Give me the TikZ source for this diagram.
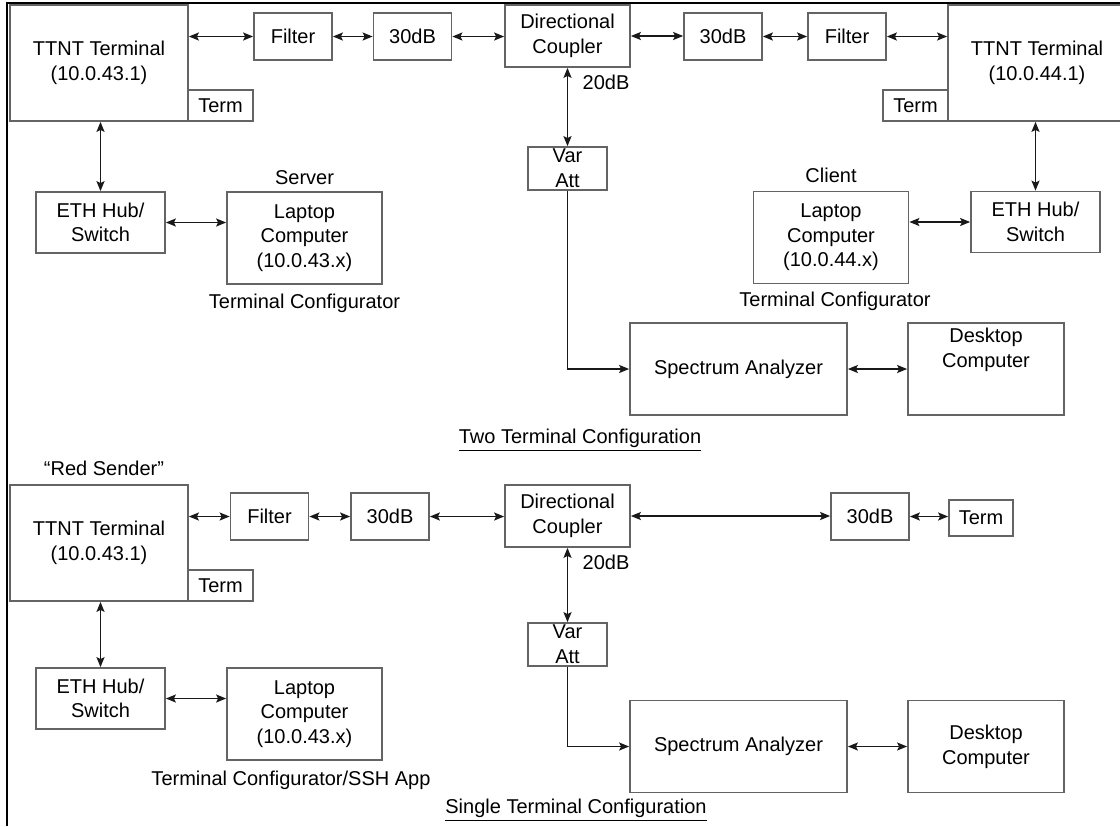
\documentclass[tikz,border=0pt]{standalone}
\usepackage{fontspec}
\setmainfont{Liberation Sans}
\usepackage{tikz}
\usetikzlibrary{arrows.meta, positioning}
\definecolor{boxgray}{RGB}{100,100,100}
\definecolor{linedark}{RGB}{25,25,25}
\newcommand{\boxfont}{\fontsize{15}{18.5}\selectfont}
\tikzset{
  unit/.style={rectangle, draw=boxgray, fill=white, align=center,
    font=\boxfont, line width=1.3pt, inner sep=0pt},
  terminal/.style={unit, minimum width=133.5pt, minimum height=87pt},
  termbox/.style={unit, minimum width=48.75pt, minimum height=23.25pt},
  smallbox/.style={unit, minimum width=58.5pt, minimum height=35.25pt},
  coupler/.style={unit, minimum width=93.75pt, minimum height=46.5pt},
  varbox/.style={unit, minimum width=59.25pt, minimum height=32.25pt},
  hub/.style={unit, minimum width=96.75pt, minimum height=45.75pt},
  laptop/.style={unit, minimum width=116.25pt, minimum height=69pt},
  analyzer/.style={unit, minimum width=162.75pt, minimum height=69pt},
  desktop/.style={unit, minimum width=117pt, minimum height=69pt},
  link/.style={<->, line width=1.2pt, color=linedark},
  feed/.style={->, line width=1.2pt, color=linedark},
  caption/.style={font=\boxfont, inner sep=0pt}
}

\begin{document}
\begin{tikzpicture}[x=0.75pt, y=-0.75pt,
  >={Stealth[length=7.5pt, width=6pt, inset=1.5pt]}]
\useasboundingbox (0,0) rectangle (1120,826);
\draw[line width=1.5pt] (7,826) -- (7,3) -- (1120,3);

% two terminal configuration
\node[terminal] (tA) at (99,63) {TTNT Terminal\\(10.0.43.1)};
\node[termbox] (termA) at (220.5,105.5) {Term};
\node[smallbox] (filA) at (293,36.5) {Filter};
\node[smallbox] (attA) at (412.5,36.5) {30dB};
\node[coupler] (dcA) at (567.5,36) {Directional\\Coupler};
\node[smallbox] (attB) at (723,36.5) {30dB};
\node[smallbox] (filB) at (847,36.5) {Filter};
\node[terminal] (tB) at (1037,63) {TTNT Terminal\\(10.0.44.1)};
\node[termbox] (termB) at (915.5,105.5) {Term};
\node[caption] (gainA) at (606,82) {20dB};
\node[varbox] (varA) at (567.5,168.5) {Var\\Att};
\node[hub] (ethA) at (100.5,222.5) {ETH Hub/\\Switch};
\node[laptop] (lapA) at (304.5,238) {Laptop\\Computer\\(10.0.43.x)};
\node[caption] (roleA) at (304.5,178) {Server};
\node[caption] (cfgA) at (304.5,303) {Terminal Configurator};
\node[laptop] (lapB) at (831,237.5) {Laptop\\Computer\\(10.0.44.x)};
\node[caption] (roleB) at (831,175) {Client};
\node[caption] (cfgB) at (835,301) {Terminal Configurator};
\node[hub] (ethB) at (1035.5,222) {ETH Hub/\\Switch};
\node[analyzer] (saA) at (738.5,369) {Spectrum Analyzer};
\node[desktop, text depth=32pt] (dtA) at (986,369) {Desktop\\Computer};
\node[caption] (titleA) at (580,440) {\underline{Two Terminal Configuration}};

\draw[link] (filA.west -| tA.east) -- (filA.west);
\draw[link] (filA.east) -- (filA.east -| attA.west);
\draw[link] (attA.east) -- (attA.east -| dcA.west);
\draw[link] (dcA.east) -- (dcA.east -| attB.west);
\draw[link] (attB.east) -- (attB.east -| filB.west);
\draw[link] (filB.east) -- (filB.east -| tB.west);
\draw[link] (dcA.south) -- (varA.north);
\draw[feed] (varA.south) |- (saA.west);
\draw[link] (saA.east) -- (saA.east -| dtA.west);
\draw[link] (ethA.north |- tA.south) -- (ethA.north);
\draw[link] (ethA.east) -- (ethA.east -| lapA.west);
\draw[link] (ethB.north |- tB.south) -- (ethB.north);
\draw[link] (ethB.west) -- (ethB.west -| lapB.east);

% single terminal configuration
\node[caption] (roleC) at (104,468) {“Red Sender”};
\node[terminal] (tC) at (99,543) {TTNT Terminal\\(10.0.43.1)};
\node[termbox] (termC) at (220.5,585.5) {Term};
\node[smallbox] (filC) at (269.5,516.5) {Filter};
\node[smallbox] (attC) at (390,516.5) {30dB};
\node[coupler] (dcC) at (567.5,516) {Directional\\Coupler};
\node[smallbox] (attD) at (870,516.5) {30dB};
\node[unit, minimum width=48pt, minimum height=27pt] (termD) at (981,518) {Term};
\node[caption] (gainC) at (606,562) {20dB};
\node[varbox] (varC) at (567.5,644.5) {Var\\Att};
\node[hub] (ethC) at (100.5,698.5) {ETH Hub/\\Switch};
\node[laptop] (lapC) at (304.5,714) {Laptop\\Computer\\(10.0.43.x)};
\node[caption] (cfgC) at (291,780) {Terminal Configurator/SSH App};
\node[analyzer] (saC) at (738.5,746.5) {Spectrum Analyzer};
\node[desktop] (dtC) at (986,746.5) {Desktop\\Computer};
\node[caption] (titleC) at (576,810) {\underline{Single Terminal Configuration}};

\draw[link] (filC.west -| tC.east) -- (filC.west);
\draw[link] (filC.east) -- (filC.east -| attC.west);
\draw[link] (attC.east) -- (attC.east -| dcC.west);
\draw[link] (dcC.east) -- (dcC.east -| attD.west);
\draw[link] (attD.east) -- (attD.east -| termD.west);
\draw[link] (dcC.south) -- (varC.north);
\draw[feed] (varC.south) |- (saC.west);
\draw[link] (saC.east) -- (saC.east -| dtC.west);
\draw[link] (ethC.north |- tC.south) -- (ethC.north);
\draw[link] (ethC.east) -- (ethC.east -| lapC.west);
\end{tikzpicture}
\end{document}
